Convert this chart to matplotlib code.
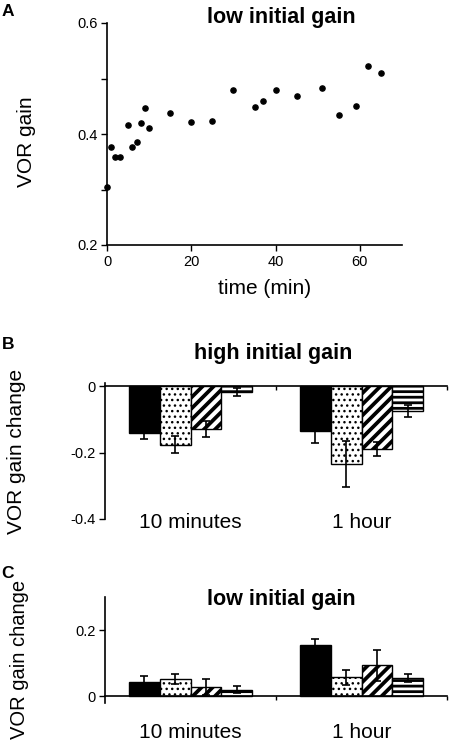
import matplotlib
matplotlib.use("Agg")
import matplotlib.pyplot as plt
import numpy as np

plt.rcParams["font.family"] = ["Liberation Sans", "DejaVu Sans"]
plt.rcParams["hatch.linewidth"] = 2.0

W, H = 449, 744

# panel A: VOR gain over time, low initial gain
time_min = [0, 1, 2, 3, 5, 6, 7, 8, 9, 10, 15, 20, 25, 30, 35, 37, 40, 45, 51, 55, 59, 62, 65]
vor_gain = [0.304, 0.377, 0.358, 0.358, 0.417, 0.377, 0.385, 0.420, 0.447, 0.410, 0.438,
            0.422, 0.424, 0.480, 0.449, 0.460, 0.480, 0.469, 0.483, 0.435, 0.451, 0.523, 0.510]

# panels B and C: gain change, 4 conditions per period
periods = ["10 minutes", "1 hour"]
high_10min = [-0.142, -0.176, -0.129, -0.018]
high_10min_err = [0.017, 0.025, 0.024, 0.012]
high_1h = [-0.135, -0.234, -0.190, -0.073]
high_1h_err = [0.036, 0.070, 0.021, 0.018]
low_10min = [0.043, 0.053, 0.029, 0.020]
low_10min_err = [0.019, 0.016, 0.024, 0.010]
low_1h = [0.155, 0.057, 0.094, 0.055]
low_1h_err = [0.019, 0.022, 0.047, 0.012]

bar_faces = ["black", "white", "white", "white"]
bar_hatches = [None, "...", "///", "---"]
hatch_lw = [1.0, 1.0, 2.7, 2.0]


def rect(left, top, right, bottom):
    return [left / W, 1 - bottom / H, (right - left) / W, (bottom - top) / H]


def fxy(x, y):
    return x / W, 1 - y / H


fig = plt.figure(figsize=(W / 100, H / 100), dpi=100)

# ---- A ----
ax_a = fig.add_axes(rect(107, 23, 402, 245))
ax_a.scatter(time_min, vor_gain, s=14, color="black", clip_on=False, zorder=3)
ax_a.set_xlim(0, 70)
ax_a.set_ylim(0.2, 0.6)
ax_a.set_xticks([0, 20, 40, 60])
ax_a.set_yticks([0.2, 0.4, 0.6])
ax_a.set_yticklabels(["0.2", "0.4", "0.6"])
ax_a.set_yticks([0.3, 0.5], minor=True)
ax_a.tick_params(axis="y", which="minor", length=4, width=1)
ax_a.tick_params(direction="out", length=4, width=1, labelsize=10.5, pad=3)
for side in ["top", "right"]:
    ax_a.spines[side].set_visible(False)
ax_a.spines["left"].set_linewidth(1.2)
ax_a.spines["bottom"].set_linewidth(1.2)
fig.text(*fxy(265, 289), "time (min)", ha="center", va="center", fontsize=15)
fig.text(*fxy(26, 142), "VOR gain", ha="center", va="center", fontsize=15, rotation=90)
fig.text(*fxy(281, 18), "low initial gain", ha="center", va="center", fontsize=15.5, fontweight="bold")
fig.text(*fxy(8, 12), "A", ha="center", va="center", fontsize=12.5, fontweight="bold")


def bar_panel(ax, groups, errs, ylim, yticks, ylabels, label_y):
    width = 0.18
    offsets = (np.arange(4) - 1.5) * width
    for g, (vals, err) in enumerate(zip(groups, errs)):
        xs = g + 0.5 + offsets
        for i in range(4):
            with plt.rc_context({"hatch.linewidth": hatch_lw[i]}):
                bars = ax.bar(xs[i], vals[i], width=width, color=bar_faces[i], edgecolor="black",
                              hatch=bar_hatches[i], linewidth=1, zorder=2)
            for p in bars:
                if hasattr(p, "set_hatch_linewidth"):
                    p.set_hatch_linewidth(hatch_lw[i])
        ax.errorbar(xs, vals, yerr=err, fmt="none", ecolor="black", elinewidth=1.2,
                    capsize=3, capthick=1.2, zorder=4)
        ax.text(g + 0.5, label_y, periods[g], ha="center", va="center", fontsize=15, clip_on=False)
    ax.set_xlim(0, 2)
    ax.set_ylim(*ylim)
    ax.set_yticks(yticks)
    ax.set_yticklabels(ylabels)
    ax.set_xticks([1, 2])
    ax.set_xticklabels([])
    ax.tick_params(direction="out", length=4, width=1, labelsize=10.5, pad=3)
    ax.tick_params(axis="x", length=3)
    ax.spines["bottom"].set_position(("data", 0))
    for side in ["top", "right"]:
        ax.spines[side].set_visible(False)
    ax.spines["left"].set_linewidth(1.2)
    ax.spines["bottom"].set_linewidth(1.2)


# ---- B ----
ax_b = fig.add_axes(rect(105, 383, 447, 519))
bar_panel(ax_b, [high_10min, high_1h], [high_10min_err, high_1h_err],
          (-0.4, 0.01), [-0.4, -0.2, 0], ["-0.4", "-0.2", "0"], -0.41)
fig.text(*fxy(273, 353), "high initial gain", ha="center", va="center", fontsize=15.5, fontweight="bold")
fig.text(*fxy(17, 451), "VOR gain change", ha="center", va="center", fontsize=15, rotation=90)
fig.text(*fxy(8, 345), "B", ha="center", va="center", fontsize=12.5, fontweight="bold")

# ---- C ----
ax_c = fig.add_axes(rect(105, 597, 447, 703))
bar_panel(ax_c, [low_10min, low_1h], [low_10min_err, low_1h_err],
          (-0.02, 0.3), [0, 0.2], ["0", "0.2"], -0.108)
fig.text(*fxy(281, 600), "low initial gain", ha="center", va="center", fontsize=15.5, fontweight="bold")
fig.text(*fxy(20, 659), "VOR gain change", ha="center", va="center", fontsize=14.5, rotation=90)
fig.text(*fxy(7, 574), "C", ha="center", va="center", fontsize=12.5, fontweight="bold")

fig.savefig("out.png", dpi=100)
